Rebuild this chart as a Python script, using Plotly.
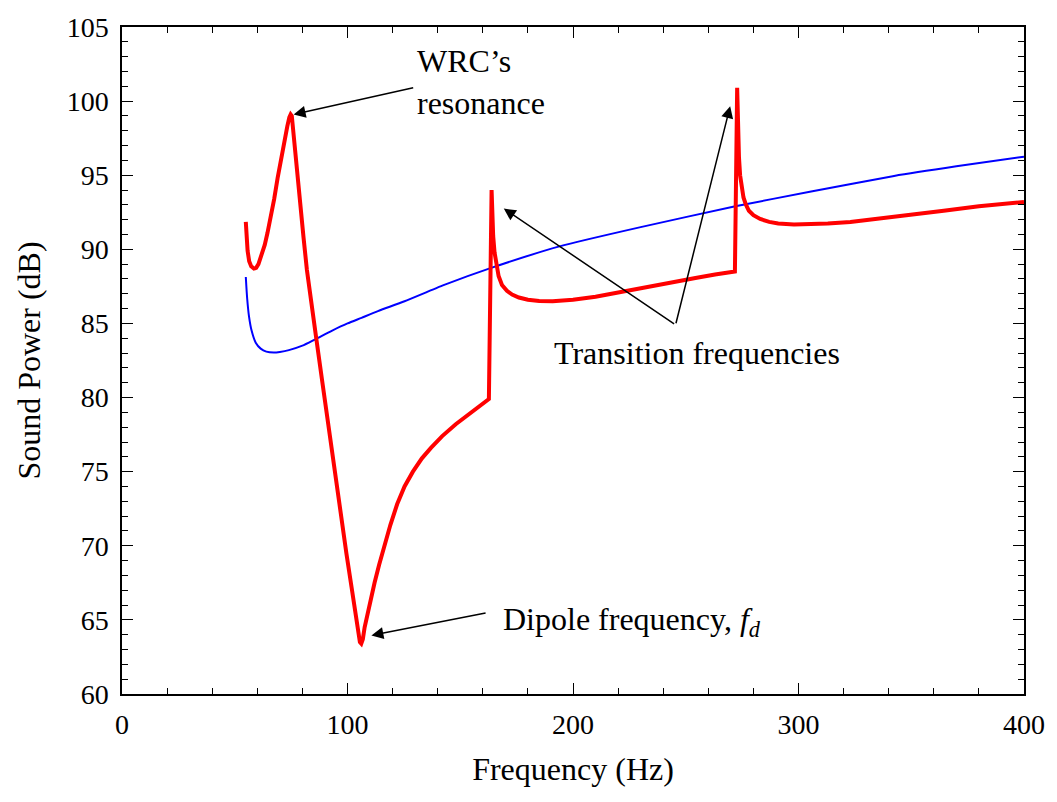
import plotly.graph_objects as go

# Red curve (with WRC)
red_f = [54.9, 55.2, 55.7, 56.4, 57.3, 58.5, 59.5, 60.5, 62, 63.3, 64.5, 66, 67.5, 69, 70.5, 72, 73.3,
         74.2, 74.8, 75.3, 76.0, 76.8, 77.8, 79.0, 80.5, 82, 84, 86, 88.6, 91, 93, 95, 97.4, 99.5,
         101.8, 103, 104.2, 104.9, 105.5, 106.1, 106.8, 107.6, 110, 112, 114, 116.5, 119, 122, 125.3,
         129, 133, 137, 142, 148, 154, 160.5, 162.7, 163.9, 164.2, 164.6, 165.2, 166, 167, 168.5,
         170.7, 173, 176, 180, 185, 191, 200, 210, 220, 232.3, 243, 254.3, 263, 271.8, 272.8, 273.2,
         273.6, 274.1, 274.8, 275.6, 276.6, 278, 280, 283, 287, 291, 298, 305, 313, 323, 335, 350,
         364.4, 380, 400]
red_db = [91.86, 90.9, 89.9, 89.2, 88.85, 88.7, 88.75, 89.0, 89.6, 90.3, 91.1, 92.2, 93.4, 94.8, 96.1,
          97.3, 98.3, 98.9, 99.1, 99.0, 97.8, 96.4, 94.8, 93.1, 90.8, 88.6, 86.2, 84.15, 81.3, 78.6,
          76.4, 74.2, 71.65, 69.5, 67.2, 66.0, 64.7, 64.0, 63.5, 63.4, 63.7, 64.5, 66.2, 67.5, 68.7,
          70.1, 71.4, 72.8, 74.0, 75.0, 75.9, 76.6, 77.4, 78.2, 78.9, 79.6, 79.9, 94.0, 92.3, 90.9,
          89.8, 88.9, 88.2, 87.6, 87.2, 86.95, 86.75, 86.6, 86.52, 86.5, 86.6, 86.8, 87.1, 87.46,
          87.75, 88.06, 88.3, 88.5, 100.9, 98.0, 96.2, 95.0, 94.1, 93.5, 93.05, 92.6, 92.3, 92.05,
          91.85, 91.75, 91.68, 91.7, 91.75, 91.85, 92.05, 92.3, 92.6, 92.9, 93.2]

# Blue curve
blue_f = [54.9, 55.5, 56.3, 57.5, 59.3, 61.5, 64, 67.3, 70, 74, 80, 85.7, 93, 100, 106.2, 113.5,
          125.3, 142.9, 163.4, 194, 230, 272, 305.6, 342.4, 370, 400]
blue_db = [88.13, 86.7, 85.5, 84.5, 83.7, 83.3, 83.1, 83.04, 83.08, 83.2, 83.5, 83.93, 84.5, 85.0, 85.38,
           85.83, 86.5, 87.6, 88.73, 90.2, 91.5, 92.9, 93.9, 94.95, 95.6, 96.25]

x_ticks = [0, 100, 200, 300, 400]
y_ticks = [60, 65, 70, 75, 80, 85, 90, 95, 100, 105]

FONT = "Liberation Serif, Times New Roman, serif"

fig = go.Figure()
fig.add_trace(go.Scatter(x=blue_f, y=blue_db, mode="lines",
                         line=dict(color="#0000ff", width=2, shape="spline", smoothing=0.6),
                         showlegend=False))
fig.add_trace(go.Scatter(x=red_f, y=red_db, mode="lines",
                         line=dict(color="#ff0000", width=4),
                         showlegend=False))

axis_common = dict(
    showgrid=False, zeroline=False, showline=True, linecolor="black", linewidth=1.5,
    mirror="allticks", ticks="inside", ticklen=11, tickwidth=1.2, tickcolor="black",
    tickfont=dict(family=FONT, size=28, color="black"),
)

fig.update_xaxes(range=[0, 400], tickvals=x_ticks,
                 minor=dict(dtick=20, ticks="inside", ticklen=6, tickwidth=1.2, tickcolor="black"),
                 title=dict(text="Frequency (Hz)", font=dict(family=FONT, size=32, color="black"),
                            standoff=18),
                 ticklabelstandoff=5,
                 **axis_common)
fig.update_yaxes(range=[60, 105], tickvals=y_ticks,
                 minor=dict(dtick=1, ticks="inside", ticklen=6, tickwidth=1.2, tickcolor="black"),
                 title=dict(text="Sound Power (dB)", font=dict(family=FONT, size=32, color="black"),
                            standoff=16),
                 ticklabelstandoff=6,
                 **axis_common)

ann_font = dict(family=FONT, size=32, color="black")
annotations = [
    dict(x=129.8, y=101.3, text="WRC’s<br>resonance", showarrow=False, xanchor="left",
         yanchor="middle", align="left", font=ann_font),
    dict(x=190.5, y=83.0, text="Transition frequencies", showarrow=False, xanchor="left",
         yanchor="middle", font=ann_font),
    dict(x=168.0, y=64.9, text="Dipole frequency, <i>f<sub>d</sub></i>", showarrow=False,
         xanchor="left", yanchor="middle", font=ann_font),
]
arrows = [
    ((76.1, 99.1), (129.8, 100.92)),
    ((169.3, 92.75), (245.5, 84.91)),
    ((269.7, 99.66), (245.5, 84.91)),
    ((110.6, 63.95), (161.9, 65.49)),
]
for (hx, hy), (tx, ty) in arrows:
    annotations.append(dict(x=hx, y=hy, ax=tx, ay=ty, xref="x", yref="y", axref="x", ayref="y",
                            text="", showarrow=True, arrowhead=2, arrowsize=1.6, arrowwidth=1.5,
                            arrowcolor="black", standoff=0))

fig.update_layout(
    width=1057, height=802,
    margin=dict(l=122, r=26, t=22, b=108),
    plot_bgcolor="white", paper_bgcolor="white",
    annotations=annotations,
)

fig.write_html("out.html")
